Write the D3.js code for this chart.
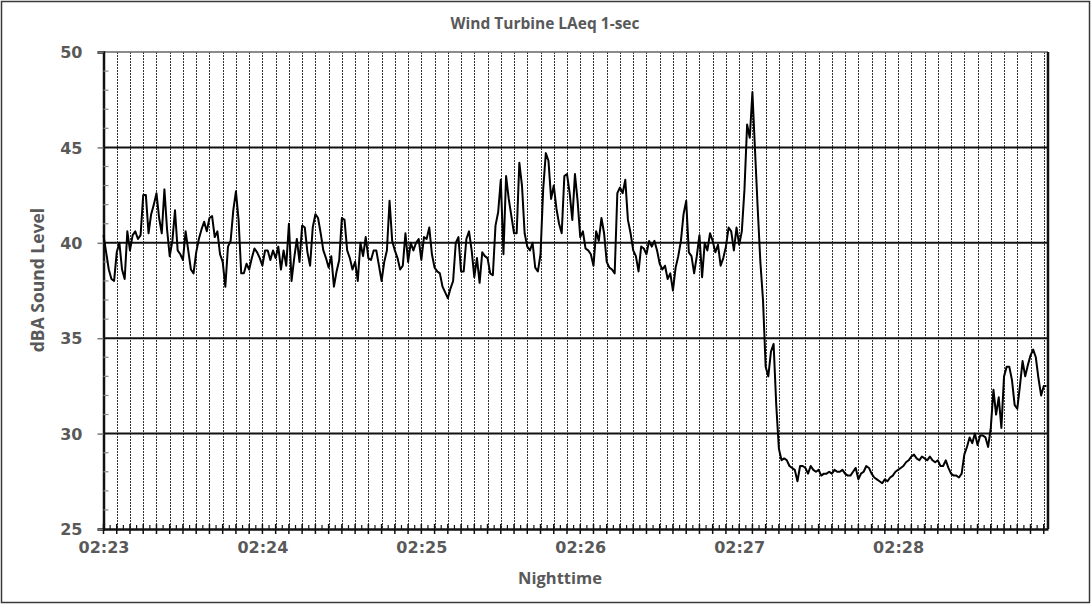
<!DOCTYPE html>
<html>
<head>
<meta charset="utf-8">
<script src="https://cdn.jsdelivr.net/npm/d3@7"></script>
<style>
  body { margin: 0; background: #fff; }
  .tick-label { font-family: "DejaVu Sans", sans-serif; font-weight: bold; font-size: 16px; fill: #595959; }
  .title { font-family: "Open Sans", sans-serif; font-weight: bold; fill: #595959; }
</style>
</head>
<body>
<svg width="1091" height="605"></svg>
<script>
// LAeq 1-second values, one array per minute (dBA)
var laeq_0223 = [
  40.4, 39.5, 38.6, 38.1, 38.0, 39.5, 40.0, 38.6, 38.1, 40.6,
  39.6, 40.4, 40.6, 40.2, 40.4, 42.5, 42.5, 40.5, 41.5, 42.0,
  42.6, 41.3, 40.5, 42.8, 40.7, 39.3, 40.1, 41.7, 39.6, 39.4,
  39.1, 40.6, 39.6, 38.6, 38.4, 39.5, 40.2, 40.7, 41.1, 40.6,
  41.3, 41.4, 40.3, 40.6, 39.4, 39.0, 37.7, 39.8, 40.1, 41.7,
  42.7, 41.2, 38.4, 38.4, 38.9, 38.6, 39.2, 39.7, 39.5, 39.2];
var laeq_0224 = [
  38.8, 39.6, 39.6, 39.1, 39.6, 39.2, 39.8, 38.6, 39.6, 38.8,
  41.0, 38.0, 39.2, 40.2, 39.0, 40.9, 40.8, 39.5, 38.8, 40.8,
  41.5, 41.3, 40.5, 39.6, 39.2, 38.7, 39.3, 37.7, 38.5, 39.1,
  41.3, 41.2, 39.6, 39.2, 38.6, 39.0, 38.0, 40.0, 39.3, 40.3,
  39.2, 39.1, 39.6, 39.6, 38.8, 38.0, 39.0, 39.6, 42.2, 40.1,
  39.6, 39.2, 38.6, 38.8, 40.5, 39.0, 40.0, 39.6, 40.0, 40.2];
var laeq_0225 = [
  39.1, 40.3, 40.2, 40.8, 39.4, 38.7, 38.5, 38.4, 37.7, 37.4,
  37.1, 37.6, 38.0, 40.0, 40.3, 38.5, 38.5, 40.2, 40.6, 39.6,
  38.2, 39.2, 37.9, 39.5, 39.3, 39.2, 38.4, 38.3, 40.9, 41.6,
  43.3, 39.4, 43.5, 42.3, 41.4, 40.5, 40.5, 44.2, 43.0, 40.5,
  39.8, 39.6, 40.0, 38.7, 38.5, 39.4, 42.8, 44.7, 44.3, 42.3,
  43.0, 41.8, 41.0, 40.5, 43.5, 43.6, 42.6, 41.2, 43.6, 42.2];
var laeq_0226 = [
  40.3, 40.6, 39.7, 39.6, 39.4, 38.8, 40.6, 40.1, 41.3, 40.5,
  39.0, 38.7, 38.6, 38.4, 42.6, 42.9, 42.6, 43.3, 41.2, 40.5,
  39.6, 39.3, 38.5, 39.8, 39.7, 39.4, 40.1, 39.8, 40.1, 39.6,
  38.9, 38.6, 38.8, 38.1, 38.4, 37.5, 38.7, 39.3, 40.1, 41.5,
  42.2, 39.5, 39.3, 38.4, 39.3, 40.4, 38.2, 40.0, 39.6, 40.5,
  40.1, 39.5, 39.9, 38.8, 39.2, 39.8, 40.8, 40.6, 39.6, 40.8];
var laeq_0227 = [
  39.9, 40.6, 42.8, 46.2, 45.5, 47.9, 44.8, 41.8, 39.0, 37.0,
  33.5, 33.0, 34.3, 34.7, 31.5, 29.2, 28.6, 28.7, 28.6, 28.3,
  28.2, 28.1, 27.5, 28.3, 28.3, 28.2, 27.9, 28.3, 28.1, 28.0,
  28.1, 27.8, 27.9, 27.9, 28.0, 27.9, 28.1, 28.0, 28.0, 28.1,
  27.9, 27.8, 27.8, 28.0, 28.2, 27.6, 27.9, 28.0, 28.3, 28.2,
  27.9, 27.7, 27.6, 27.5, 27.4, 27.6, 27.5, 27.7, 27.8, 28.0];
var laeq_0228 = [
  28.1, 28.2, 28.3, 28.5, 28.6, 28.8, 28.9, 28.7, 28.6, 28.8,
  28.7, 28.6, 28.8, 28.6, 28.5, 28.6, 28.3, 28.3, 28.6, 28.2,
  27.9, 27.8, 27.8, 27.7, 27.9, 28.9, 29.3, 29.8, 29.5, 30.0,
  29.4, 29.9, 29.9, 29.8, 29.3, 30.3, 32.3, 31.0, 31.9, 30.3,
  33.0, 33.5, 33.5, 32.8, 31.5, 31.3, 32.5, 33.8, 33.0, 33.6,
  34.1, 34.4, 34.0, 32.9, 32.0, 32.5, 32.5];

var xTickSeconds = [0, 60, 120, 180, 240, 300];
var xTickLabels = ["02:23", "02:24", "02:25", "02:26", "02:27", "02:28"];
var yTicks = [25, 30, 35, 40, 45, 50];

var TITLE = "Wind Turbine LAeq 1-sec";
var X_TITLE = "Nighttime";
var Y_TITLE = "dBA Sound Level";

var values = [].concat(laeq_0223, laeq_0224, laeq_0225, laeq_0226, laeq_0227, laeq_0228);
var data = values.map(function(v, i) { return {sec: i, db: v}; });

var svg = d3.select("svg");
var PLOT = {left: 103.5, right: 1048, top: 52, bottom: 529};

var x = d3.scaleLinear().domain([0, 356.6]).range([PLOT.left, PLOT.right]);
var y = d3.scaleLinear().domain([25, 50]).range([PLOT.bottom, PLOT.top]);

// outer chart border
svg.append("rect")
    .attr("x", 1.5).attr("y", 1.5).attr("width", 1088).attr("height", 601)
    .attr("fill", "#fff").attr("stroke", "#3a3a3a").attr("stroke-width", 1.5);

// vertical dotted grid, every 5 s
svg.append("g")
    .selectAll("line")
    .data(d3.range(5, 357, 5))
    .join("line")
    .attr("x1", d => Math.round(x(d)) + 0.5).attr("x2", d => Math.round(x(d)) + 0.5)
    .attr("y1", PLOT.top).attr("y2", PLOT.bottom)
    .attr("stroke", "#333").attr("stroke-width", 1)
    .attr("stroke-dasharray", "2,1");

// horizontal grid
svg.append("g")
    .selectAll("line")
    .data([30, 35, 40, 45])
    .join("line")
    .attr("x1", PLOT.left).attr("x2", PLOT.right)
    .attr("y1", d => y(d)).attr("y2", d => y(d))
    .attr("stroke", "#111").attr("stroke-width", 2);

// top and right frame
svg.append("line")
    .attr("x1", PLOT.left).attr("x2", PLOT.right).attr("y1", PLOT.top).attr("y2", PLOT.top)
    .attr("stroke", "#666").attr("stroke-width", 1.5);
svg.append("line")
    .attr("x1", PLOT.right).attr("x2", PLOT.right).attr("y1", PLOT.top).attr("y2", PLOT.bottom)
    .attr("stroke", "#111").attr("stroke-width", 2.5);

// y axis
var yAxis = svg.append("g")
    .attr("transform", "translate(" + PLOT.left + ",0)")
    .call(d3.axisLeft(y).tickValues(yTicks).tickSize(6).tickPadding(15));
yAxis.select(".domain").attr("stroke", "#111").attr("stroke-width", 2.5);
yAxis.selectAll(".tick line").attr("stroke", "#777").attr("stroke-width", 1.5);
yAxis.selectAll(".tick text").attr("class", "tick-label").attr("dy", "0.36em");

// y minor ticks (inside)
svg.append("g")
    .selectAll("line")
    .data(d3.range(26, 50).filter(d => d % 5 !== 0))
    .join("line")
    .attr("x1", PLOT.left).attr("x2", PLOT.left + 5)
    .attr("y1", d => y(d)).attr("y2", d => y(d))
    .attr("stroke", "#888").attr("stroke-width", 1.2);

// x axis
var xAxis = svg.append("g")
    .attr("transform", "translate(0," + PLOT.bottom + ")")
    .call(d3.axisBottom(x).tickValues(xTickSeconds)
        .tickFormat((d, i) => xTickLabels[i]).tickSize(0).tickPadding(13));
xAxis.select(".domain").attr("stroke", "#111").attr("stroke-width", 2.5);
xAxis.selectAll(".tick text").attr("class", "tick-label").attr("dy", "0.71em");

// x major ticks every 5 s (crossing) and minor every 2.5 s (inside)
svg.append("g")
    .selectAll("line")
    .data(d3.range(0, 357, 5))
    .join("line")
    .attr("x1", d => x(d)).attr("x2", d => x(d))
    .attr("y1", PLOT.bottom - 5).attr("y2", PLOT.bottom + 5)
    .attr("stroke", "#111").attr("stroke-width", 1.5);
svg.append("g")
    .selectAll("line")
    .data(d3.range(2.5, 357, 5))
    .join("line")
    .attr("x1", d => x(d)).attr("x2", d => x(d))
    .attr("y1", PLOT.bottom - 4).attr("y2", PLOT.bottom)
    .attr("stroke", "#111").attr("stroke-width", 1.2);

// the data line
var line = d3.line()
    .x(d => x(d.sec))
    .y(d => y(d.db));

svg.append("path")
    .datum(data)
    .attr("fill", "none")
    .attr("stroke", "#000")
    .attr("stroke-width", 2)
    .attr("stroke-linejoin", "round")
    .attr("d", line);

// titles
svg.append("text")
    .attr("class", "title")
    .attr("x", 545).attr("y", 29)
    .attr("text-anchor", "middle")
    .style("font-size", "15.5px")
    .text(TITLE);

svg.append("text")
    .attr("class", "title")
    .attr("x", 560).attr("y", 584)
    .attr("text-anchor", "middle")
    .style("font-size", "16.5px")
    .text(X_TITLE);

svg.append("text")
    .attr("class", "title")
    .attr("transform", "translate(44,280) rotate(-90)")
    .attr("text-anchor", "middle")
    .style("font-size", "17.5px")
    .text(Y_TITLE);
</script>
</body>
</html>
